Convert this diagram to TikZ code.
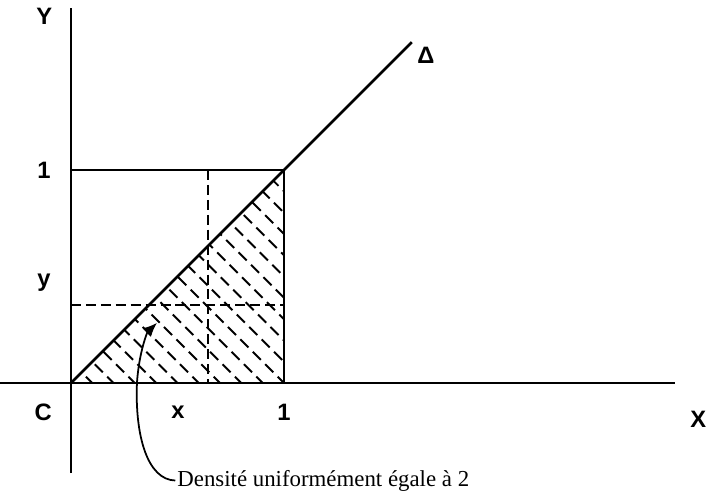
\documentclass[tikz,border=0pt]{standalone}
\usepackage{fontspec}
\setmainfont{Liberation Serif}
\newfontfamily\labelfont{Liberation Sans}
\usetikzlibrary{arrows.meta,positioning,calc}

\begin{document}
\begin{tikzpicture}[
  x=4.26cm, y=4.26cm,
  axis/.style={line width=1.4pt, black},
  edge/.style={line width=1.5pt, black},
  guide/.style={line width=1.1pt, dash pattern=on 5.7pt off 2.8pt},
  hatch/.style={line width=1.1pt, dash pattern=on 6.5pt off 3.5pt},
  lbl/.style={font=\labelfont\bfseries\fontsize{13.5}{15}\selectfont, inner sep=1pt},
  note/.style={font=\fontsize{13}{15}\selectfont, inner sep=1pt},
  arr/.style={-{Latex[length=2.8mm,width=2.4mm]}, line width=1pt}
]
\useasboundingbox (-0.333,-0.516) rectangle (2.991,1.798);

% ---- Points ----
\coordinate (C)     at (0,0);
\coordinate (xend)  at (2.836,0);
\coordinate (xbeg)  at (-0.333,0);
\coordinate (ytop)  at (0,1.76);
\coordinate (ybot)  at (0,-0.423);
\coordinate (one1)  at (1,1);
\coordinate (onex)  at (1,0);
\coordinate (oney)  at (0,1);
\coordinate (dend)  at (1.6,1.6);
\coordinate (vx)    at (0.643,0);
\coordinate (vxtop) at (0.643,1);
\coordinate (hy)    at (0,0.365);
\coordinate (hyend) at (1,0.365);
\coordinate (tip)   at (0.404,0.282);
\coordinate (bend)  at (0.31,0);

% ---- Hatching of the triangle ----
\begin{scope}
  \clip (C) -- (onex) -- (one1) -- cycle;
  \foreach \c in {0.1,0.2,...,2.0}
    \draw[hatch] (\c+0.3,-0.3) -- ++(-1.6,1.6);
\end{scope}

% ---- Dashed guides ----
\draw[guide] (vxtop) -- (vx);
\draw[guide] (hy) -- (hyend);

% ---- Axes and square ----
\draw[axis] (xbeg) -- (xend);
\draw[axis] (ybot) -- (ytop);
\draw[edge] (oney) -- (one1);
\draw[edge] (one1) -- (onex);
\draw[edge] (C) -- (dend);

% ---- Labels ----
\node[lbl] (Ylab)  at (-0.125,1.72)  {Y};
\node[lbl] (oneY)  at (-0.127,1.0)   {1};
\node[lbl] (ylab)  at (-0.127,0.47)  {y};
\node[lbl] (Clab)  at (-0.13,-0.14)  {C};
\node[lbl] (xlab)  at (0.502,-0.136) {x};
\node[lbl] (oneX)  at (1.0,-0.136)   {1};
\node[lbl] (Xlab)  at (2.945,-0.169) {X};
\node[lbl] (Dlab)  at (1.667,1.54)   {Δ};

\node[note, anchor=west] (dens) at (0.49,-0.458) {Densité uniformément égale à 2};

% ---- Arrow ----
\draw[arr] (dens.west) .. controls (0.36,-0.455) and (0.30,-0.25) .. (bend)
  .. controls (0.32,0.15) and (0.36,0.24) .. (tip);

\end{tikzpicture}
\end{document}
